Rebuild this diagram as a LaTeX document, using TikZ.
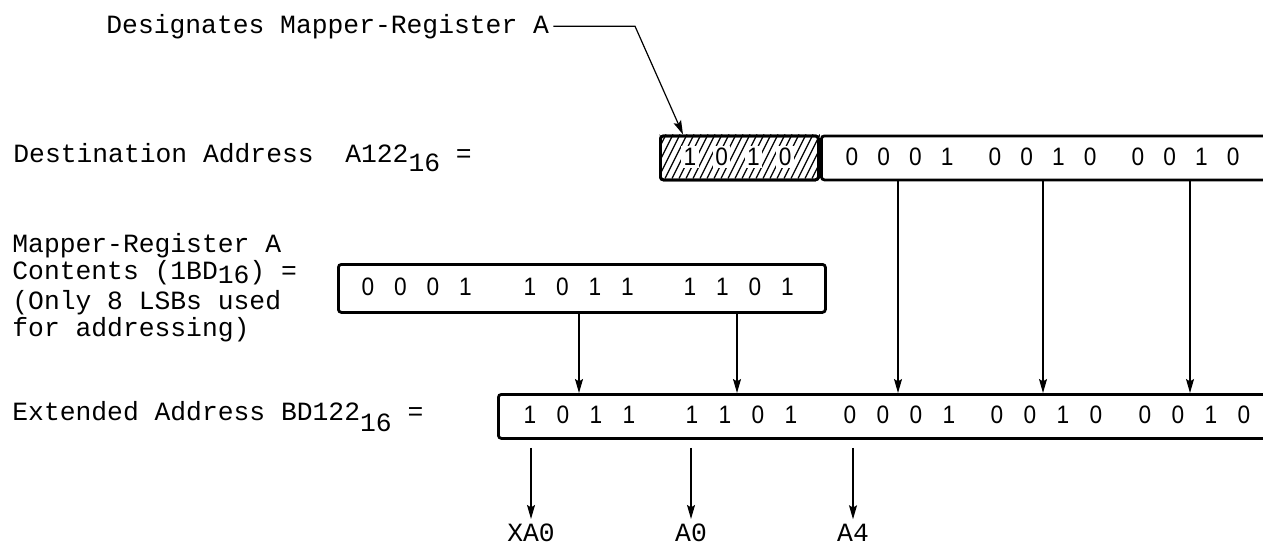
\documentclass[tikz,border=0pt]{standalone}
\usepackage{fontspec}
\setmainfont{Liberation Mono}
\newfontfamily\digitfont[FakeStretch=0.9]{Liberation Sans}
\usetikzlibrary{arrows.meta}
\begin{document}
\begin{tikzpicture}[x=0.5pt,y=-0.5pt,
  lbl/.style={font=\fontsize{13.17}{15}\selectfont, inner sep=0pt, anchor=base west},
  addr/.style={font=\fontsize{13.17}{15}\selectfont, inner sep=0pt, anchor=base},
  bit/.style={font=\digitfont\fontsize{12.6}{14}\selectfont, inner sep=0pt},
  hbit/.style={bit, fill=white, inner sep=1.2pt},
  regbox/.style={draw, line width=1.4pt, rounded corners=1.5pt, anchor=north west, inner sep=0pt},
  arr/.style={line width=0.6pt, -{Stealth[length=7pt,width=4pt,inset=1.2pt]}},
]
\useasboundingbox (0,0) rectangle (1263,546);
\clip (0,0) rectangle (1263,546);

% ---- labels ----
\node[lbl] (desig) at (106,33) {Designates Mapper-Register A};
\node[lbl] (destl) at (13,162) {Destination Address\ \ A122\raisebox{-4.5pt}{16} =};
\node[lbl] (m1) at (12,252) {Mapper-Register A};
\node[lbl] (m2) at (12,279) {Contents (1BD\raisebox{-2.2pt}{16}) =};
\node[lbl] (m3) at (12,309) {(Only 8 LSBs used};
\node[lbl] (m4) at (12,336) {for addressing)};
\node[lbl] (extl) at (12,420) {Extended Address BD122\raisebox{-5.5pt}{16} =};

% ---- boxes ----
\node[regbox, minimum width=79pt, minimum height=22pt] (hbox) at (659,134.5) {};
\node[regbox, minimum width=260pt, minimum height=22pt] (dbox) at (820,134.5) {};
\node[regbox, minimum width=243.5pt, minimum height=24pt] (mbox) at (337,263) {};
\node[regbox, minimum width=420pt, minimum height=22pt] (ebox) at (497,393) {};

% hatching of the mapper-register field
\begin{scope}
  \clip (hbox.north west) rectangle (hbox.south east);
  \foreach \i in {0,...,30} {
    \draw[line width=0.65pt] (630+\i*7,178.5) -- ++(22,-44);
  }
\end{scope}
\node[regbox, minimum width=79pt, minimum height=22pt] at (659,134.5) {};

% ---- digits ----
\foreach \d [count=\i from 0] in {1,0,1,0}
  \node[hbit] at (690+\i*31.7,157) {\d};
\foreach \d [count=\i from 0] in {0,0,0,1}
  \node[bit] at (852+\i*31.7,157) {\d};
\foreach \d [count=\i from 0] in {0,0,1,0}
  \node[bit] at (995+\i*31.7,157) {\d};
\foreach \d [count=\i from 0] in {0,0,1,0}
  \node[bit] at (1138+\i*31.7,157) {\d};

\foreach \d [count=\i from 0] in {0,0,0,1}
  \node[bit] at (368+\i*32.5,287) {\d};
\foreach \d [count=\i from 0] in {1,0,1,1}
  \node[bit] at (530+\i*32.5,287) {\d};
\foreach \d [count=\i from 0] in {1,1,0,1}
  \node[bit] at (690+\i*32.5,287) {\d};

\foreach \d [count=\i from 0] in {1,0,1,1}
  \node[bit] at (530+\i*33,415) {\d};
\foreach \d [count=\i from 0] in {1,1,0,1}
  \node[bit] at (692+\i*33,415) {\d};
\foreach \d [count=\i from 0] in {0,0,0,1}
  \node[bit] at (850+\i*33,415) {\d};
\foreach \d [count=\i from 0] in {0,0,1,0}
  \node[bit] at (997+\i*33,415) {\d};
\foreach \d [count=\i from 0] in {0,0,1,0}
  \node[bit] at (1145+\i*33,415) {\d};

% ---- group positions ----
\coordinate (mg2) at (579,287);
\coordinate (mg3) at (737,287);
\coordinate (dg1) at (898,157);
\coordinate (dg2) at (1043,157);
\coordinate (dg3) at (1190,157);

% ---- bit labels below ----
\node[addr] (xa0) at (531,541) {XA0};
\node[addr] (a0) at (691,541) {A0};
\node[addr] (a4) at (853,541) {A4};

% ---- connectors ----
\coordinate (bend) at (635,25.5);
\coordinate (dtip) at ([xshift=12pt]hbox.north west);
\draw[arr] ([xshift=2pt]desig.east) -- (desig.east -| bend) -- (dtip);

\draw[arr] (dg1 |- dbox.south) -- (dg1 |- ebox.north);
\draw[arr] (dg2 |- dbox.south) -- (dg2 |- ebox.north);
\draw[arr] (dg3 |- dbox.south) -- (dg3 |- ebox.north);
\draw[arr] (mg2 |- mbox.south) -- (mg2 |- ebox.north);
\draw[arr] (mg3 |- mbox.south) -- (mg3 |- ebox.north);

\draw[arr, shorten <=4pt, shorten >=2pt] (xa0 |- ebox.south) -- (xa0.north);
\draw[arr, shorten <=4pt, shorten >=2pt] (a0 |- ebox.south) -- (a0.north);
\draw[arr, shorten <=4pt, shorten >=2pt] (a4 |- ebox.south) -- (a4.north);
\end{tikzpicture}
\end{document}
